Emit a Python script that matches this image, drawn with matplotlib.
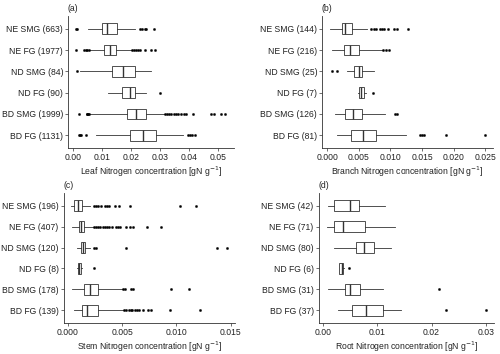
import matplotlib
matplotlib.use("Agg")
import matplotlib.pyplot as plt

plt.rcParams['font.family'] = ['Liberation Sans', 'DejaVu Sans']

# order bottom -> top
cats_a = ["BD FG (1131)", "BD SMG (1999)", "ND FG (90)", "ND SMG (84)", "NE FG (1977)", "NE SMG (663)"]
cats_b = ["BD FG (81)", "BD SMG (126)", "ND FG (7)", "ND SMG (25)", "NE FG (216)", "NE SMG (144)"]
cats_c = ["BD FG (139)", "BD SMG (178)", "ND FG (8)", "ND SMG (120)", "NE FG (407)", "NE SMG (196)"]
cats_d = ["BD FG (37)", "BD SMG (31)", "ND FG (6)", "ND SMG (80)", "NE FG (71)", "NE SMG (42)"]

# stats: whislo, q1, med, q3, whishi
stats_a = [
    [0.0082, 0.0197, 0.0243, 0.0288, 0.0378],
    [0.0060, 0.0188, 0.0217, 0.0254, 0.0313],
    [0.0122, 0.0169, 0.0197, 0.0214, 0.0254],
    [0.0025, 0.0136, 0.0174, 0.0214, 0.0271],
    [0.0060, 0.0109, 0.0128, 0.0148, 0.0203],
    [0.0054, 0.0100, 0.0119, 0.0151, 0.0214],
]
fliers_a = [
    [0.0023, 0.0025, 0.0029, 0.0046, 0.0397, 0.0405, 0.0412, 0.0420],
    [0.0023, 0.0048, 0.0051, 0.0054, 0.0057, 0.0317, 0.0325, 0.0333, 0.0340, 0.0348, 0.0356, 0.0364, 0.0374, 0.0383, 0.0390, 0.0414, 0.0475, 0.0485, 0.0510, 0.0525],
    [0.0302],
    [0.0016],
    [0.0010, 0.0040, 0.0045, 0.0050, 0.0057, 0.0205, 0.0212, 0.0218, 0.0224, 0.0231, 0.0250, 0.0271, 0.0283],
    [0.0011, 0.0016, 0.0231, 0.0240, 0.0248, 0.0254, 0.0280],
]
stats_b = [
    [0.0015, 0.0038, 0.0056, 0.0078, 0.0125],
    [0.0013, 0.0029, 0.0041, 0.0055, 0.0091],
    [0.0049, 0.0051, 0.0053, 0.0058, 0.0062],
    [0.0032, 0.0042, 0.0050, 0.0055, 0.0074],
    [0.0007, 0.0027, 0.0036, 0.0051, 0.0087],
    [0.0004, 0.0023, 0.0029, 0.0040, 0.0063],
]
fliers_b = [
    [0.0147, 0.0150, 0.0153, 0.0188, 0.0250],
    [0.0108, 0.0111],
    [0.0072],
    [0.0008, 0.0016],
    [0.0089, 0.0093, 0.0098],
    [0.0070, 0.0074, 0.0078, 0.0083, 0.0087, 0.0090, 0.0096, 0.0106, 0.0111, 0.0127],
]
stats_c = [
    [0.0006, 0.0013, 0.0018, 0.0028, 0.0051],
    [0.0004, 0.0015, 0.0020, 0.0028, 0.0050],
    [0.0008, 0.0009, 0.0010, 0.0012, 0.0013],
    [0.0008, 0.0012, 0.0014, 0.0016, 0.0020],
    [0.0004, 0.0010, 0.0012, 0.0015, 0.0023],
    [0.0003, 0.0006, 0.0009, 0.0013, 0.0020],
]
fliers_c = [
    [0.0052, 0.0054, 0.0056, 0.0058, 0.0059, 0.0062, 0.0064, 0.0066, 0.0069, 0.0074, 0.0077, 0.0094, 0.0122],
    [0.0051, 0.0053, 0.0058, 0.0060, 0.0095, 0.0112],
    [0.0024],
    [0.0024, 0.0026, 0.0054, 0.0137, 0.0147],
    [0.0024, 0.0026, 0.0028, 0.0030, 0.0032, 0.0034, 0.0036, 0.0038, 0.0041, 0.0044, 0.0046, 0.0048, 0.0054, 0.0057, 0.0060, 0.0073, 0.0086],
    [0.0024, 0.0026, 0.0028, 0.0031, 0.0034, 0.0036, 0.0038, 0.0043, 0.0047, 0.0057, 0.0103, 0.0118],
]
stats_d = [
    [0.0027, 0.0053, 0.0080, 0.0111, 0.0143],
    [0.0009, 0.0040, 0.0050, 0.0069, 0.0110],
    [0.0029, 0.0030, 0.0035, 0.0038, 0.0039],
    [0.0020, 0.0061, 0.0075, 0.0094, 0.0126],
    [0.0007, 0.0020, 0.0038, 0.0078, 0.0133],
    [0.0009, 0.0021, 0.0050, 0.0066, 0.0114],
]
fliers_d = [
    [0.0227, 0.0300],
    [0.0214],
    [0.0049],
    [],
    [],
    [],
]

panels = [
    ("(a)", cats_a, stats_a, fliers_a, "Leaf", (-0.0016, 0.0555), [0, 0.01, 0.02, 0.03, 0.04, 0.05], "{:.2f}", (68, 234, 16, 148)),
    ("(b)", cats_b, stats_b, fliers_b, "Branch", (-0.0008, 0.0262), [0, 0.005, 0.01, 0.015, 0.02, 0.025], "{:.3f}", (322, 493, 16, 148)),
    ("(c)", cats_c, stats_c, fliers_c, "Stem", (-0.0004, 0.0154), [0, 0.005, 0.01, 0.015], "{:.3f}", (63.5, 235, 193, 323)),
    ("(d)", cats_d, stats_d, fliers_d, "Root", (-0.0008, 0.0315), [0, 0.01, 0.02, 0.03], "{:.2f}", (318.5, 494, 193, 323)),
]

W, H = 500, 354
fig = plt.figure(figsize=(5, 3.54), dpi=100)
edge = "#333333"
for lab, cats, stats, fliers, organ, xlim, ticks, fmt, (l, r, t, b) in panels:
    ax = fig.add_axes([l / W, 1 - b / H, (r - l) / W, (b - t) / H])
    bx = []
    for c, s, f in zip(cats, stats, fliers):
        bx.append(dict(label=c, whislo=s[0], q1=s[1], med=s[2], q3=s[3], whishi=s[4], fliers=f))
    ax.bxp(bx, vert=False, widths=0.5, patch_artist=True, showcaps=False,
           boxprops=dict(facecolor="white", edgecolor=edge, linewidth=0.6),
           medianprops=dict(color=edge, linewidth=1.0),
           whiskerprops=dict(color=edge, linewidth=0.6),
           flierprops=dict(marker="o", markersize=1.7, markerfacecolor="black", markeredgecolor="black", markeredgewidth=0.2))
    ax.set_xlim(*xlim)
    ax.set_ylim(0.4, 6.6)
    ax.set_xticks(ticks)
    ax.set_xticklabels([fmt.format(v) for v in ticks])
    for s in ["top", "right"]:
        ax.spines[s].set_visible(False)
    for s in ["left", "bottom"]:
        ax.spines[s].set_color("#333333")
        ax.spines[s].set_linewidth(0.6)
    ax.tick_params(axis="both", labelsize=6.2, length=2.3, width=0.5, color="#333333", pad=1.2, labelcolor="#222222")
    ax.set_xlabel(organ + " Nitrogen concentration [gN g$^{-1}$]", fontsize=6.2, labelpad=2, color="#222222")
    ax.text(0.0, 1.02, lab, transform=ax.transAxes, fontsize=6.2, ha="left", va="bottom", color="#222222")

fig.savefig("out.png", dpi=100)
